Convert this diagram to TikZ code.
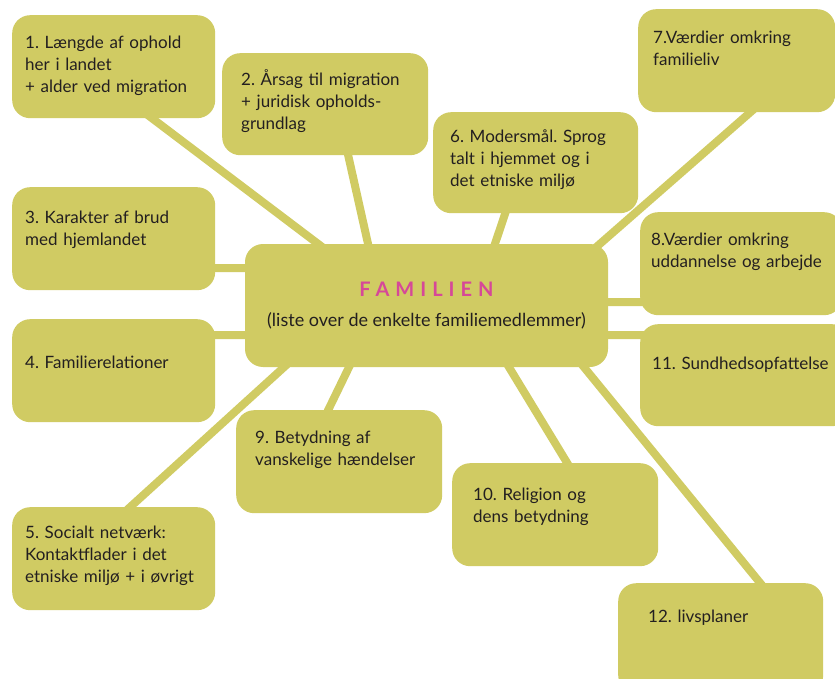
\documentclass[tikz,border=0pt]{standalone}
\usepackage{fontspec}
\setmainfont{Lato}
\newfontfamily\titlefont{Lato}[LetterSpace=30]
\usetikzlibrary{backgrounds}
\definecolor{boxfill}{RGB}{208,203,99}
\definecolor{titlepink}{RGB}{214,72,152}
\definecolor{ink}{RGB}{35,31,32}
\frenchspacing
\tikzset{
  box/.style={fill=boxfill, rounded corners=18pt, anchor=north west, align=left,
    inner xsep=13pt, inner ysep=0pt, text width=177pt, text height=33pt,
    text depth=70pt, text=ink, font=\fontsize{17}{22}\selectfont},
  fambox/.style={fill=boxfill, rounded corners=18pt, align=center,
    minimum width=363pt, minimum height=123pt, text=ink,
    font=\fontsize{18}{22}\selectfont},
  link/.style={draw=boxfill, line width=8pt, shorten <=-8pt, shorten >=-8pt},
}
\begin{document}
\begin{tikzpicture}[x=1pt,y=-1pt]
  \useasboundingbox (0,0) rectangle (835,679);
  % midten
  \node [fambox] (fam) at (426.5,305.5)
    {{\titlefont\bfseries\color{titlepink}\fontsize{20}{24}\selectfont FAMILIEN}\\[8pt]
     (liste over de enkelte familiemedlemmer)};
  % venstre kolonne
  \node [box] (b1) at (12,15) {1. Længde af ophold\\her i landet\\+ alder ved migration};
  \node [box, text height=36pt, text depth=67pt] (b3) at (12,187) {3. Karakter af brud\\med hjemlandet};
  \node [box, text height=49pt, text depth=54pt] (b4) at (12,319) {4. Familierelationer};
  \node [box, text height=31pt, text depth=72pt] (b5) at (12,507) {5. Socialt netværk:\\Kontaktflader i det\\etniske miljø + i øvrigt};
  % midterste kolonne
  \node [box, inner xsep=19pt, text width=168pt, text height=32pt] (b2) at (222,53) {2. Årsag til migration\\+ juridisk opholds-\\grundlag};
  \node [box, inner xsep=17pt, text width=171pt, text height=30pt, text depth=71pt] (b6) at (433,112) {6. Modersmål. Sprog\\talt i hjemmet og i\\det etniske miljø};
  \node [box, inner xsep=19pt, text width=168pt] (b9) at (236,410) {9. Betydning af\\vanskelige hændelser};
  \node [box, inner xsep=21pt, text width=164pt, text height=37pt, text depth=66pt] (b10) at (452,463) {10. Religion og\\dens betydning};
  % højre kolonne
  \node [box, inner xsep=15pt, text width=167pt, text height=34pt, text depth=69pt] (b7) at (638,9) {7.Værdier omkring\\familieliv};
  \node [box, inner xsep=11pt, text width=180pt] (b8) at (640,212) {8.Værdier omkring\\uddannelse og arbejde};
  \node [box, inner xsep=12pt, text width=186pt, text height=45pt, text depth=57pt] (b11) at (640,324) {11. Sundhedsopfattelse};
  \node [box, inner xsep=30pt, text width=145pt, text height=39pt, text depth=71pt] (b12) at (618,583) {12. livsplaner};
  % forbindelser
  \begin{pgfonlayer}{background}
    \draw [link] ([xshift=38.5pt]b1.south) -- ([xshift=-108.5pt]fam.north);
    \draw [link] ([xshift=23pt]b2.south) -- ([xshift=-58.5pt]fam.north);
    \draw [link] ([yshift=-29.5pt]b3.east) -- ([yshift=37.5pt]fam.west);
    \draw [link] ([yshift=35.5pt]b4.east) -- ([yshift=-29.5pt]fam.west);
    \draw [link] ([xshift=16.5pt]b5.north) -- ([xshift=-142.5pt]fam.south);
    \draw [link] ([xshift=-30.5pt]b6.south) -- ([xshift=68.5pt]fam.north);
    \draw [link] ([xshift=13.5pt]b7.south) -- ([xshift=173.5pt]fam.north);
    \draw [link] ([yshift=-38.5pt]b8.west) -- ([yshift=3.5pt]fam.east);
    \draw [link] ([xshift=-11pt]b9.north) -- ([xshift=-77.5pt]fam.south);
    \draw [link] ([xshift=12pt]b10.north) -- ([xshift=82.5pt]fam.south);
    \draw [link] ([yshift=40pt]b11.west) -- ([yshift=-29.5pt]fam.east);
    \draw [link] ([xshift=39.5pt]b12.north) -- ([xshift=157.5pt]fam.south);
  \end{pgfonlayer}
\end{tikzpicture}
\end{document}
